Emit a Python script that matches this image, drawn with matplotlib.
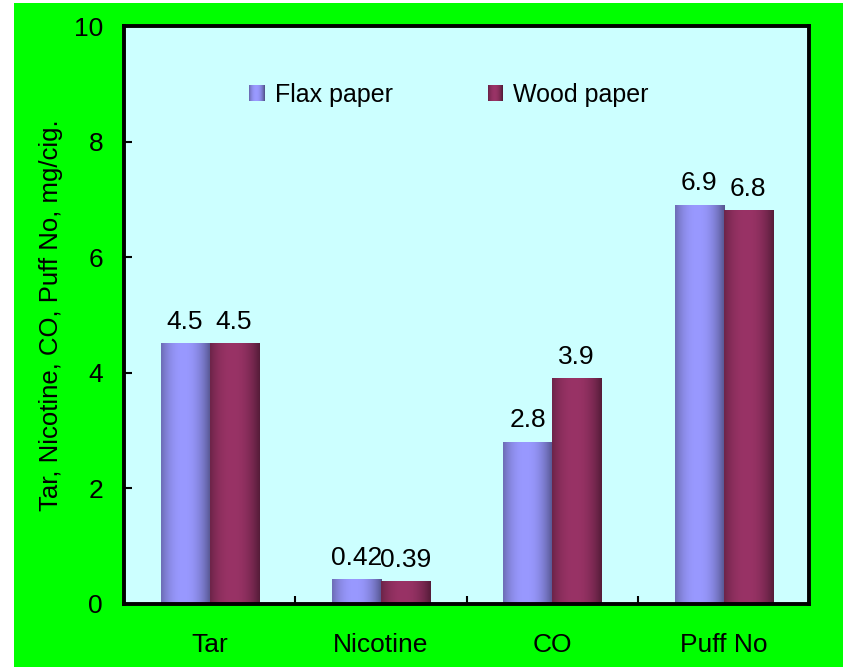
import matplotlib
matplotlib.use("Agg")
import matplotlib.pyplot as plt
import numpy as np
from matplotlib.patches import Rectangle
from matplotlib.legend_handler import HandlerBase
from matplotlib.colors import to_rgb

categories = ["Tar", "Nicotine", "CO", "Puff No"]
flax = [4.5, 0.42, 2.8, 6.9]
wood = [4.5, 0.39, 3.9, 6.8]
flax_labels = ["4.5", "0.42", "2.8", "6.9"]
wood_labels = ["4.5", "0.39", "3.9", "6.8"]
series_names = ["Flax paper", "Wood paper"]
yticks = [0, 2, 4, 6, 8, 10]

plt.rcParams["font.family"] = ["Liberation Sans", "DejaVu Sans"]

FLAX = "#9999ff"
WOOD = "#993366"


def shade(color, n=64):
    # cylinder-like shading: dark edges, light band just left of centre
    c = np.array(to_rgb(color))
    t = np.linspace(0, 1, n)
    f = 1 - np.clip(np.abs((t - 0.45) / 0.58), 0, 1) ** 2.2
    k = 0.5 + 0.5 * f
    return c[None, :] * k[:, None]


class GradientHandler(HandlerBase):
    def __init__(self, color):
        super().__init__()
        self.color = color

    def create_artists(self, legend, orig_handle, xdescent, ydescent,
                       width, height, fontsize, trans):
        cols = shade(self.color, 16)
        w = width / len(cols)
        arts = []
        for i, c in enumerate(cols):
            r = Rectangle((-xdescent + i * w, -ydescent), w * 1.05, height,
                          facecolor=c, edgecolor="none", transform=trans)
            arts.append(r)
        return arts


fig = plt.figure(figsize=(8.43, 6.67), dpi=100, facecolor="white")
fig.patches.append(Rectangle((14 / 843, 0), 1, 1 - 3 / 667,
                             transform=fig.transFigure, facecolor="#00ff00",
                             edgecolor="none", zorder=-10))
ax = fig.add_axes([0.147, 0.0945, 0.813, 0.8665])
ax.set_facecolor("#ccffff")

x = np.arange(len(categories))
w = 0.286
b1 = ax.bar(x - w / 2, flax, w, color="none", edgecolor="none")
b2 = ax.bar(x + w / 2, wood, w, color="none", edgecolor="none")

for bars, color in [(b1, FLAX), (b2, WOOD)]:
    img = shade(color)[None, :, :]
    for bar in bars:
        x0, y0 = bar.get_x(), bar.get_y()
        ax.imshow(img, extent=[x0, x0 + bar.get_width(), y0, y0 + bar.get_height()],
                  aspect="auto", interpolation="bilinear", zorder=2)

for bars, labels in [(b1, flax_labels), (b2, wood_labels)]:
    for bar, lab in zip(bars, labels):
        ax.annotate(lab, (bar.get_x() + bar.get_width() / 2, bar.get_height()),
                    xytext=(0, 7), textcoords="offset points",
                    ha="center", va="bottom", fontsize=19)

ax.set_xlim(-0.5, len(categories) - 0.5)
ax.set_ylim(0, 10)
ax.set_yticks(yticks)
ax.set_xticks(x)
ax.set_xticklabels(categories)
ax.set_xticks(x[:-1] + 0.5, minor=True)
ax.tick_params(axis="x", which="major", length=0, labelsize=19, pad=21)
ax.tick_params(axis="x", which="minor", direction="in", length=6, width=1.5)
ax.tick_params(axis="y", direction="in", length=6, width=1.5, labelsize=19, pad=15)
for s in ax.spines.values():
    s.set_linewidth(2.8)
    s.set_color("black")
ax.set_ylabel("Tar, Nicotine, CO, Puff No, mg/cig.", fontsize=18.5, labelpad=8)

h1 = Rectangle((0, 0), 1, 1)
h2 = Rectangle((0, 0), 1, 1, fill=False)
ax.legend([h1, h2], series_names, ncol=2, frameon=False, fontsize=18,
          loc="upper left", bbox_to_anchor=(0.15, 0.94),
          handler_map={h1: GradientHandler(FLAX), h2: GradientHandler(WOOD)},
          handlelength=0.62, handleheight=0.62, handletextpad=0.4,
          columnspacing=3.8)

fig.savefig("out.png", dpi=100, facecolor=fig.get_facecolor())
